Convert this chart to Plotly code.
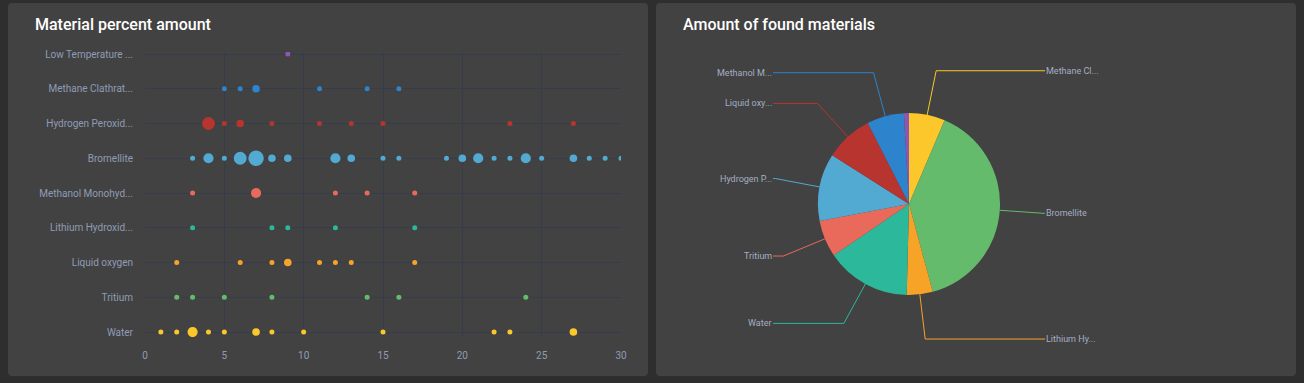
import math
import plotly.graph_objects as go

W, H = 1304, 383

# ---------------- data ----------------
categories = ["Water", "Tritium", "Liquid oxygen", "Lithium Hydroxid...",
              "Methanol Monohyd...", "Bromellite", "Hydrogen Peroxid...",
              "Methane Clathrat...", "Low Temperature ..."]

water_x = [1, 2, 3, 4, 5, 7, 8, 10, 15, 22, 23, 27]
water_amt = [1, 1, 3, 1, 1, 2, 1, 1, 1, 1, 1, 2]
tritium_x = [2, 3, 5, 8, 14, 16, 24]
tritium_amt = [1, 1, 1, 1, 1, 1, 1]
oxygen_x = [2, 6, 8, 9, 11, 12, 13, 17]
oxygen_amt = [1, 1, 1, 2, 1, 1, 1, 1]
lithium_x = [3, 8, 9, 12, 17]
lithium_amt = [1, 1, 1, 1, 1]
methanol_x = [3, 7, 12, 14, 17]
methanol_amt = [1, 3, 1, 1, 1]
bromellite_x = [3, 4, 5, 6, 7, 8, 9, 12, 13, 15, 16, 19, 20, 21, 22, 23, 24, 25, 27, 28, 29, 30]
bromellite_amt = [1, 3, 1, 4, 5, 2, 2, 3, 2, 1, 1, 1, 2, 3, 1, 1, 3, 1, 2, 1, 1, 1]
peroxide_x = [4, 5, 6, 8, 11, 13, 15, 23, 27]
peroxide_amt = [4, 1, 2, 1, 1, 1, 1, 1, 1]
clathrate_x = [5, 6, 7, 11, 14, 16]
clathrate_amt = [1, 1, 2, 1, 1, 1]
lowtemp_x = [9]
lowtemp_amt = [1]

series_colors = ["#fcc72a", "#65bb6c", "#f7a328", "#2cb89b", "#e96a5a",
                 "#52a9d1", "#b7342f", "#2d83cc", "#9055b4"]

pie_labels = ["Methane Cl...", "Bromellite", "Lithium Hy...", "Water", "Tritium",
              "Hydrogen P...", "Liquid oxy...", "Methanol M...", "Low Temperature ..."]
pie_values = [6.4, 39.4, 4.6, 15.1, 6.5, 12.0, 8.5, 6.6, 0.9]
pie_colors = ["#fcc72a", "#65bb6c", "#f7a328", "#2cb89b", "#e96a5a",
              "#52a9d1", "#b7342f", "#2d83cc", "#9055b4"]
pie_show_label = [True, True, True, True, True, True, True, True, False]

# ---------------- helpers ----------------
def px(x):
    return x / W

def py(y):
    return 1 - y / H

def rounded_rect(x0, y0, x1, y1, r):
    pts = (f"M {px(x0 + r)} {py(y0)} L {px(x1 - r)} {py(y0)} "
           f"Q {px(x1)} {py(y0)} {px(x1)} {py(y0 + r)} "
           f"L {px(x1)} {py(y1 - r)} Q {px(x1)} {py(y1)} {px(x1 - r)} {py(y1)} "
           f"L {px(x0 + r)} {py(y1)} Q {px(x0)} {py(y1)} {px(x0)} {py(y1 - r)} "
           f"L {px(x0)} {py(y0 + r)} Q {px(x0)} {py(y0)} {px(x0 + r)} {py(y0)} Z")
    return pts

fig = go.Figure()

# ---------------- scatter ----------------
rows = [
    (water_x, water_amt), (tritium_x, tritium_amt), (oxygen_x, oxygen_amt),
    (lithium_x, lithium_amt), (methanol_x, methanol_amt),
    (bromellite_x, bromellite_amt), (peroxide_x, peroxide_amt),
    (clathrate_x, clathrate_amt), (lowtemp_x, lowtemp_amt),
]
for i, (xs, amts) in enumerate(rows):
    fig.add_trace(go.Scatter(
        x=xs, y=[categories[i]] * len(xs), mode="markers",
        marker=dict(color=series_colors[i], size=[2.6 * a + 2.4 for a in amts],
                    line=dict(width=0), opacity=1),
        showlegend=False, hoverinfo="x+y",
    ))

grid_col = "#363c49"
label_col = "#8f9cb6"
plot_l, plot_r, plot_t, plot_b = 145, 621, 52, 337
row_px = (332 - 54) / 8

fig.update_xaxes(
    domain=[px(plot_l), px(plot_r)], range=[0, 30], dtick=5, tick0=0,
    showgrid=True, gridcolor=grid_col, gridwidth=1, zeroline=False,
    showline=False, ticks="", ticklabelstandoff=11,
    tickfont=dict(family="Roboto", size=10, color=label_col),
    automargin=False, fixedrange=True,
)
fig.update_yaxes(
    domain=[py(plot_b), py(plot_t)], type="category",
    categoryorder="array", categoryarray=categories,
    range=[-(plot_b - 332) / row_px, 8 + (54 - plot_t) / row_px],
    showgrid=True, gridcolor=grid_col, gridwidth=1, zeroline=False,
    showline=False, ticks="", ticklabelstandoff=11,
    tickfont=dict(family="Roboto", size=10, color=label_col),
    automargin=False, fixedrange=True,
)

# ---------------- pie ----------------
cx, cy, R = 909, 204, 91
fig.add_trace(go.Pie(
    labels=pie_labels, values=pie_values, sort=False, direction="clockwise",
    rotation=0, textinfo="none", hole=0,
    marker=dict(colors=pie_colors, line=dict(width=0)),
    domain=dict(x=[px(cx - R), px(cx + R)], y=[py(cy + R), py(cy - R)]),
    showlegend=False, hoverinfo="label+percent",
))

shapes = [
    dict(type="path", xref="paper", yref="paper", path=rounded_rect(8, 3, 648, 376, 4),
         fillcolor="#424242", line=dict(width=0), layer="below"),
    dict(type="path", xref="paper", yref="paper", path=rounded_rect(656, 3, 1296, 376, 4),
         fillcolor="#424242", line=dict(width=0), layer="below"),
]
title_font = dict(family="Roboto", size=16, color="#ffffff", weight=500)
annotations = [
    dict(text="Material percent amount", x=px(33), y=py(25), xref="paper", yref="paper",
         xanchor="left", yanchor="middle", showarrow=False, font=title_font),
    dict(text="Amount of found materials", x=px(681), y=py(25), xref="paper", yref="paper",
         xanchor="left", yanchor="middle", showarrow=False, font=title_font),
]

len1 = 45
edge_dx = 136
total = sum(pie_values)
cum = 0.0
for lab, val, col, show in zip(pie_labels, pie_values, pie_colors, pie_show_label):
    mid = (cum + val / 2) / total * 2 * math.pi
    cum += val
    if not show:
        continue
    sx, sy = math.sin(mid), -math.cos(mid)
    x0, y0 = cx + R * sx, cy + R * sy
    x1, y1 = cx + (R + len1) * sx, cy + (R + len1) * sy
    right = sx >= 0
    x2 = cx + edge_dx if right else cx - edge_dx
    shapes.append(dict(
        type="path", xref="paper", yref="paper",
        path=f"M {px(x0)} {py(y0)} L {px(x1)} {py(y1)} L {px(x2)} {py(y1)}",
        line=dict(color=col, width=1),
    ))
    annotations.append(dict(
        text=lab, x=px(x2), y=py(y1), xref="paper", yref="paper",
        xanchor="left" if right else "right", yanchor="middle", showarrow=False,
        borderpad=0, font=dict(family="Roboto", size=9, color="#a4aec3"),
    ))

fig.update_layout(
    width=W, height=H, margin=dict(l=0, r=0, t=0, b=0),
    paper_bgcolor="#2e2e2e", plot_bgcolor="rgba(0,0,0,0)",
    shapes=shapes, annotations=annotations,
    font=dict(family="Roboto"),
)

fig.write_html("out.html", config={"displayModeBar": False},
               post_script="document.body.style.margin='0px';")
